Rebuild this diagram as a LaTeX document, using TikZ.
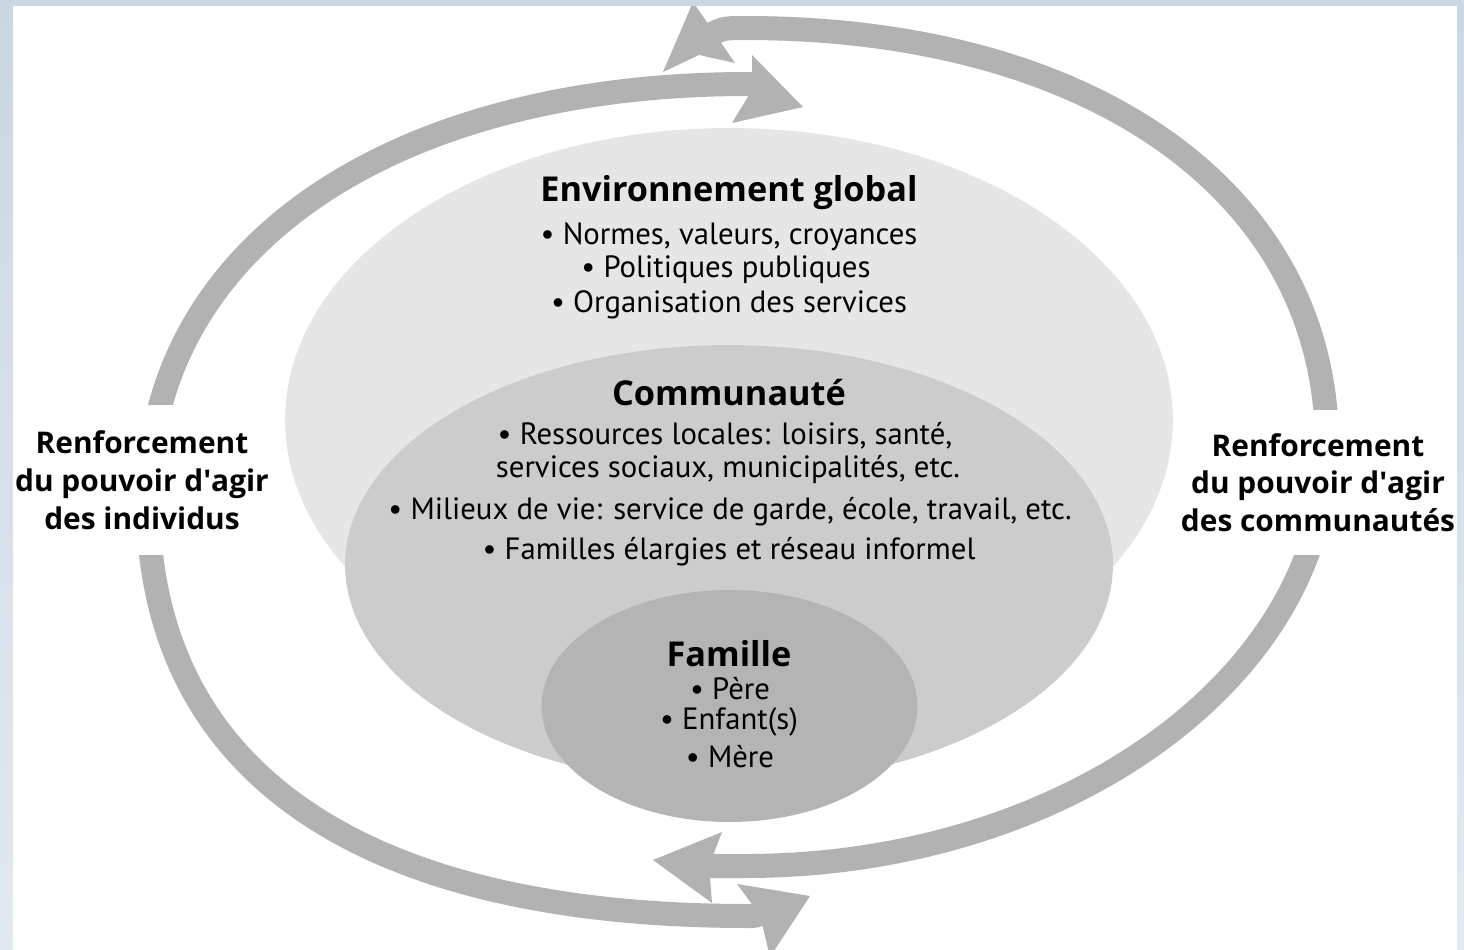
\documentclass[tikz,border=0pt]{standalone}
\usepackage{fontspec}
\setmainfont{PT Sans}
\newfontfamily\headfont{Open Sans}
\usetikzlibrary{positioning}

\definecolor{ringgrey}{HTML}{B2B2B2}
\definecolor{envgrey}{HTML}{E6E6E6}
\definecolor{comgrey}{HTML}{CCCCCC}
\definecolor{famgrey}{HTML}{B4B4B4}
\definecolor{frametop}{HTML}{CAD8E4}
\definecolor{framebot}{HTML}{E2E9F1}

\begin{document}
\begin{tikzpicture}[x=0.02cm, y=-0.02cm,
        ringband/.style={draw=ringgrey, line width=0.48cm},
        tipshape/.style={fill=ringgrey},
        headtext/.style={font=\headfont\fontsize{19.5}{23}\selectfont\bfseries},
        itemtext/.style={font=\fontsize{17.5}{21}\selectfont},
        sidetext/.style={fill=white, inner sep=0pt, align=center,
            font=\headfont\fontsize{17}{21.5}\selectfont\bfseries}]

            \useasboundingbox (0,0) rectangle (1464,950);
            \shade[top color=frametop, bottom color=framebot] (0,0) rectangle (1464,950);
            \fill[white] (13,6) rectangle (1457,950);

            \begin{scope}
            \clip (13,6) rectangle (1457,950);

            % individus: left ring, arrows point right
            \draw[ringband] (148,500) .. controls (148,250) and (388,84) .. (748,84)
                .. controls (753,84) .. (760,88);
                \fill[tipshape] (803,107) -- (752,55) -- (752,90) -- (732,123) -- cycle;
            \draw[ringband] (148,500) .. controls (148,770) and (358,916) .. (748,916)
                .. controls (756,916) .. (764,912);
                \fill[tipshape] (810,896) -- (737,884) -- (760,915) -- (770,957) -- cycle;

            % communautes: right ring, arrows point left
            \draw[ringband] (1327,446) .. controls (1327,194) and (1094,28) .. (745,28)
                .. controls (722,28) .. (702,40);
                \fill[tipshape] (693,2) -- (663,72) -- (699,55) -- (735,63) -- cycle;
            \draw[ringband] (1327,446) .. controls (1327,677) and (1065,866) .. (745,866) -- (690,866);
                \fill[tipshape] (653,860) -- (722,832) -- (709,866) -- (712,903) -- cycle;
            \end{scope}

            % nested levels
            \fill[envgrey] (729,420) ellipse (8.88cm and 5.84cm);
            \fill[comgrey] (729,565) ellipse (7.68cm and 4.4cm);
            \fill[famgrey] (729.5,706) ellipse (3.76cm and 2.32cm);

            \node[sidetext, minimum height=3cm] (individus) at (142,480)
                {Renforcement\\du pouvoir d\textquotesingle agir\\des individus};
            \node[sidetext, minimum height=2.9cm] (communautes) at (1318,482.5)
                {Renforcement\\du pouvoir d\textquotesingle agir\\des communautés};

            \node[headtext] (envtitle) at (729,193) {Environnement global};
                \node[itemtext] (normes) at (729,237) {\textbullet{} Normes, valeurs, croyances};
                \node[itemtext] (politiques) at (726,270) {\textbullet{} Politiques publiques};
                \node[itemtext] (organisation) at (729,305) {\textbullet{} Organisation des services};

            \node[headtext] (comtitle) at (729,393) {Communauté};
                \node[itemtext] (ressources) at (725,436) {\textbullet{} Ressources locales: loisirs, santé,};
                \node[itemtext] (services) at (728,470) {services sociaux, municipalités, etc.};
                \node[itemtext] (milieux) at (730,512) {\textbullet{} Milieux de vie: service de garde, école, travail, etc.};
                \node[itemtext] (familles) at (729,552) {\textbullet{} Familles élargies et réseau informel};

            \node[headtext] (famtitle) at (729,654) {Famille};
                \node[itemtext] (pere) at (730,689) {\textbullet{} Père};
                \node[itemtext] (enfants) at (729,722) {\textbullet{} Enfant(s)};
                \node[itemtext] (mere) at (730,757) {\textbullet{} Mère};

      \end{tikzpicture}
\end{document}
